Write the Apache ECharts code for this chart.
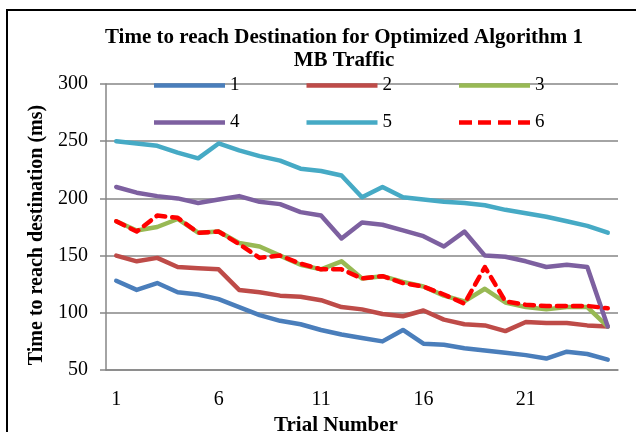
<!DOCTYPE html>
<html>
<head>
<meta charset="utf-8">
<script src="https://cdn.jsdelivr.net/npm/echarts@6/dist/echarts.min.js"></script>
<style>
  html, body { margin: 0; padding: 0; background: #fff; }
  #chart { width: 636px; height: 432px; }
</style>
</head>
<body>
<div id="chart"></div>
<script>
// trial numbers 1..25
var trials = ['1','2','3','4','5','6','7','8','9','10','11','12','13','14','15','16','17','18','19','20','21','22','23','24','25'];

var s1 = [128,120,126,118,116,112,105,98,93,90,85,81,78,75,85,73,72,69,67,65,63,60,66,64,59];
var s2 = [150,145,148,140,139,138,120,118,115,114,111,105,103,99,97,102,94,90,89,84,92,91,91,89,88];
var s3 = [180,172,175,182,170,171,161,158,150,142,138,145,130,132,127,123,115,110,121,109,105,103,105,105,88];
var s4 = [210,205,202,200,196,199,202,197,195,188,185,165,179,177,172,167,158,171,150,149,145,140,142,140,88];
var s5 = [250,248,246,240,235,248,242,237,233,226,224,220,201,210,201,199,197,196,194,190,187,184,180,176,170];
var s6 = [180,171,185,183,170,171,160,148,150,143,138,138,130,132,126,123,116,108,140,110,107,106,106,106,104];

var names = ['1','2','3','4','5','6'];
var colors = ['#4A7EBB','#BE4B48','#98B954','#7D60A0','#46AAC5','#FF0000'];
var seriesData = [s1, s2, s3, s4, s5, s6];

var serif = '"Liberation Serif", "Times New Roman", serif';

// legend samples: a plain bar, and a dashed bar for series 6
var solidIcon = 'path://M0,0 L71,0 L71,4.5 L0,4.5 Z';
var dashIcon = 'path://M0,0h13v4.5h-13z M19,0h13v4.5h-13z M39,0h13v4.5h-13z M59,0h12v4.5h-12z';

var series = [];
for (var i = 0; i < seriesData.length; i++) {
    series.push({
        name: names[i],
        type: 'line',
        data: seriesData[i],
        symbol: 'none',
        smooth: false,
        z: i == 5 ? 10 : 2 + i,
        lineStyle: {
            color: colors[i],
            width: 4.5,
            type: i == 5 ? [9, 7] : 'solid',
            cap: 'round',
            join: 'round'
        },
        itemStyle: {color: colors[i]}
    });
}

function legendItems(list) {
    return list.map(function (n) {
        return {name: n, icon: n == '6' ? dashIcon : solidIcon};
    });
}

var legendBase = {
    itemWidth: 71,
    itemHeight: 14,
    itemGap: 67,
    textStyle: {fontFamily: serif, fontSize: 19, color: '#000'}
};

var myChart = echarts.init(document.getElementById('chart'));
myChart.setOption({
    animation: false,
    color: colors,
    title: {
        text: 'Time to reach Destination for Optimized Algorithm 1\nMB Traffic',
        left: 339,
        top: 21,
        textAlign: 'center',
        textStyle: {fontFamily: serif, fontSize: 21, fontWeight: 'bold', color: '#000', lineHeight: 23}
    },
    legend: [
        Object.assign({}, legendBase, {data: legendItems(['1', '2', '3']), left: 149, top: 71}),
        Object.assign({}, legendBase, {data: legendItems(['4', '5', '6']), left: 149, top: 108})
    ],
    grid: {
        left: 106,
        right: 18,
        top: 84,
        bottom: 62,
        containLabel: false,
        outerBoundsMode: 'none'
    },
    xAxis: {
        type: 'category',
        data: trials,
        boundaryGap: true,
        name: 'Trial Number',
        nameLocation: 'middle',
        nameGap: 38,
        nameTextStyle: {fontFamily: serif, fontSize: 21, fontWeight: 'bold', color: '#000', padding: [0, 52, 0, 0]},
        axisLine: {lineStyle: {color: '#868686', width: 1.5}},
        axisTick: {show: false},
        axisLabel: {interval: 4, fontFamily: serif, fontSize: 20, color: '#000', margin: 20}
    },
    yAxis: {
        type: 'value',
        min: 50,
        max: 300,
        interval: 50,
        name: 'Time to reach destination (ms)',
        nameLocation: 'middle',
        nameGap: 58,
        nameTextStyle: {fontFamily: serif, fontSize: 20, fontWeight: 'bold', color: '#000', padding: [0, 16, 0, 0]},
        axisLine: {show: true, lineStyle: {color: '#868686', width: 1.5}},
        axisTick: {show: true, length: 6, lineStyle: {color: '#868686', width: 1.5}},
        splitLine: {lineStyle: {color: '#868686', width: 1.5}},
        axisLabel: {fontFamily: serif, fontSize: 20, color: '#000', margin: 18}
    },
    graphic: [{
        type: 'rect',
        shape: {x: 7, y: 10, width: 700, height: 500},
        style: {fill: 'none', stroke: '#000', lineWidth: 2},
        silent: true
    }],
    series: series
});
</script>
</body>
</html>
